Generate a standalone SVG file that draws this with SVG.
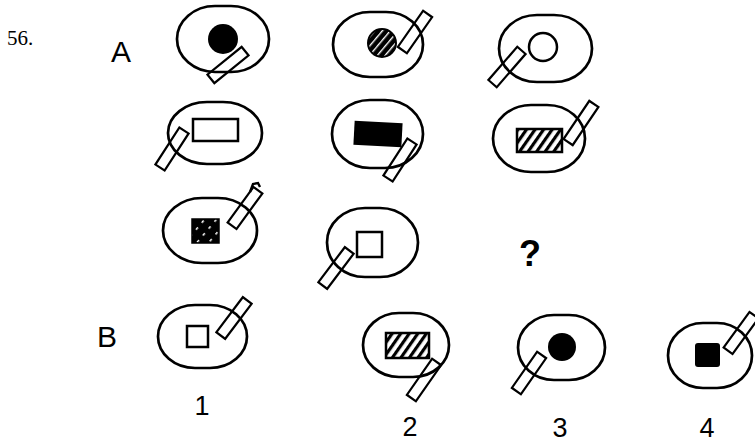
<svg xmlns="http://www.w3.org/2000/svg" width="755" height="444" viewBox="0 0 755 444">
<style>
.oval{fill:none;stroke:#000;stroke-width:2.7}
.stick{fill:none;stroke:#000;stroke-width:2.2}
.line{fill:none;stroke:#000;stroke-width:2.4}
.lbl{font-family:"Liberation Sans",Arial,sans-serif;font-size:30px;fill:#000}
.opt{font-family:"Liberation Sans",Arial,sans-serif;font-size:27px;fill:#000}
.num{font-family:"Liberation Serif","Times New Roman",serif;font-size:21px;fill:#000}
</style>
<defs>
<pattern id="hatchLight" patternUnits="userSpaceOnUse" width="7" height="7" patternTransform="rotate(35)">
<rect width="7" height="7" fill="#fff"/>
<rect x="0" y="0" width="3.2" height="7" fill="#000"/>
</pattern>
<pattern id="hatchDark" patternUnits="userSpaceOnUse" width="6" height="6" patternTransform="rotate(40)">
<rect width="6" height="6" fill="#000"/>
<rect x="0" y="0" width="1.4" height="6" fill="#fff"/>
</pattern>
<pattern id="hatchSparse" patternUnits="userSpaceOnUse" width="9" height="9" patternTransform="rotate(40)">
<rect width="9" height="9" fill="#000"/>
<rect x="0" y="2" width="1.5" height="3" fill="#fff"/>
</pattern>
</defs>

<text class="num" x="7" y="45">56.</text>
<text class="lbl" x="111" y="62">A</text>
<text class="lbl" x="97" y="347">B</text>

<g id="a1">
<rect class="oval" x="177" y="6" width="92" height="66" rx="38" ry="33"/>
<circle cx="223" cy="39" r="15" fill="#000"/>
<rect class="stick" x="-5.5" y="-22" width="11" height="44" transform="translate(228,65) rotate(51)"/>
</g>
<g id="a2">
<rect class="oval" x="333" y="12" width="90" height="65" rx="37" ry="32.5"/>
<circle cx="382" cy="43" r="14" fill="url(#hatchDark)" stroke="#000" stroke-width="2"/>
<rect class="stick" x="-5.5" y="-22" width="11" height="44" transform="translate(415,32) rotate(35)"/>
</g>
<g id="a3">
<rect class="oval" x="499" y="15" width="93" height="67" rx="38" ry="33.5"/>
<circle cx="543" cy="47" r="14" fill="none" stroke="#000" stroke-width="2.5"/>
<rect class="stick" x="-5.5" y="-22" width="11" height="44" transform="translate(507,67) rotate(41)"/>
</g>
<g id="a4">
<rect class="oval" x="168" y="102" width="94" height="62" rx="39" ry="31"/>
<rect x="193" y="119" width="45" height="22" fill="none" stroke="#000" stroke-width="2.5"/>
<rect class="stick" x="-5.5" y="-22" width="11" height="44" transform="translate(172,149) rotate(33)"/>
</g>
<g id="a5">
<rect class="oval" x="332" y="100" width="91" height="68" rx="38" ry="34"/>
<rect x="354" y="122" width="48" height="24" fill="#000" transform="rotate(3 378 134)"/>
<rect class="stick" x="-5.5" y="-22" width="11" height="44" transform="translate(400,160) rotate(33)"/>
</g>
<g id="a6">
<rect class="oval" x="493" y="105" width="92" height="67" rx="38" ry="33.5"/>
<rect x="517" y="129" width="45" height="23" fill="url(#hatchLight)" stroke="#000" stroke-width="2.5"/>
<rect class="stick" x="-5.5" y="-23" width="11" height="46" transform="translate(581,123) rotate(34)"/>
</g>
<g id="a7">
<rect class="oval" x="163" y="198" width="94" height="65" rx="39" ry="32.5"/>
<rect x="192" y="219" width="27" height="24" fill="url(#hatchSparse)" stroke="#000" stroke-width="1.5"/>
<rect class="stick" x="-5.5" y="-22" width="11" height="44" transform="translate(245,208) rotate(36)"/>
<path class="line" d="M250,192 L253,184 L258,183 L260,187" stroke-width="2.2"/>
</g>
<g id="a8">
<rect class="oval" x="327" y="208" width="91" height="69" rx="38" ry="34.5"/>
<rect x="357" y="232" width="25" height="25" fill="none" stroke="#000" stroke-width="2.5"/>
<rect class="stick" x="-5.5" y="-22" width="11" height="44" transform="translate(336,268) rotate(37)"/>
</g>
<text class="lbl" x="530" y="266" text-anchor="middle" font-weight="bold" style="font-size:36px">?</text>

<g id="b1">
<rect class="oval" x="158" y="305" width="89" height="63" rx="37" ry="31.5"/>
<rect x="187" y="326" width="21" height="21" fill="none" stroke="#000" stroke-width="2.5"/>
<rect class="stick" x="-5.5" y="-22" width="11" height="44" transform="translate(234,318) rotate(37)"/>
</g>
<text class="opt" x="202" y="415" text-anchor="middle">1</text>
<g id="b2">
<rect class="oval" x="363" y="313" width="86" height="64" rx="36" ry="32"/>
<rect x="386" y="333" width="43" height="25" fill="url(#hatchLight)" stroke="#000" stroke-width="2.5"/>
<rect class="stick" x="-5.5" y="-22" width="11" height="44" transform="translate(424,380) rotate(35)"/>
</g>
<text class="opt" x="410" y="436" text-anchor="middle">2</text>
<g id="b3">
<rect class="oval" x="518" y="315" width="87" height="65" rx="36" ry="32.5"/>
<circle cx="562" cy="347" r="14" fill="#000"/>
<rect class="stick" x="-5.5" y="-22" width="11" height="44" transform="translate(529,373) rotate(35)"/>
</g>
<text class="opt" x="560" y="437" text-anchor="middle">3</text>
<g id="b4">
<rect class="oval" x="668" y="323" width="84" height="65" rx="35" ry="32.5"/>
<rect x="695" y="343" width="25" height="24" rx="3" fill="#000"/>
<rect class="stick" x="-5.5" y="-22" width="11" height="44" transform="translate(741,333) rotate(36)"/>
</g>
<text class="opt" x="707" y="437" text-anchor="middle">4</text>
</svg>
